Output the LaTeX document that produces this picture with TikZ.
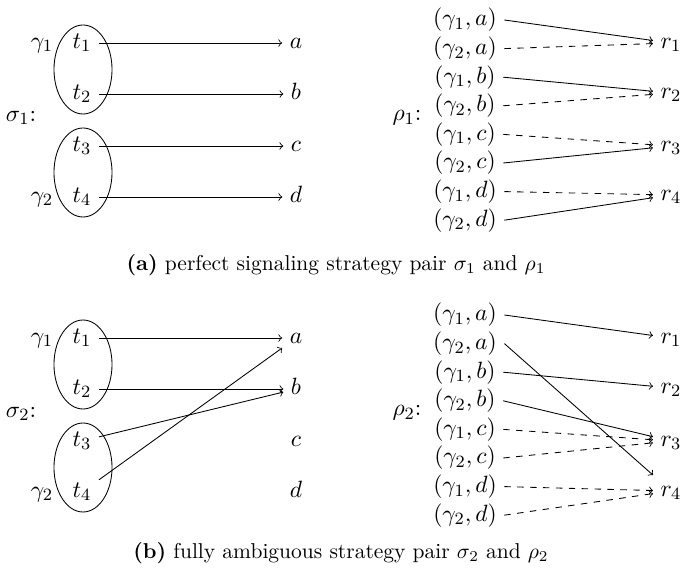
\documentclass[tikz,border=0pt]{standalone}
\usetikzlibrary{shapes.geometric}
\begin{document}
\begin{tikzpicture}[x=0.4651pt,y=-0.4651pt,
  every node/.style={font=\fontsize{10.95}{13}\selectfont},
  tx/.style={inner sep=3.33pt,text height=6.8pt,text depth=2pt},
  pr/.style={inner sep=3.33pt},
  captext/.style={font=\normalsize},
  grp/.style={draw,ellipse,inner sep=0pt,minimum width=27pt,minimum height=41.4pt},
  arr/.style={->},
  darr/.style={->,dashed}]
\useasboundingbox (0,0) rectangle (689,568);

% ---------- panel (a), left ----------
\node[grp] (e1) at (83,69.5) {};
\node[grp] (e2) at (83,172.5) {};
\node[tx] (ga1) at (42,43) {$\gamma_1$};
\node[tx] (ga2) at (42,197) {$\gamma_2$};
\node (sig1) at (21,118) {$\sigma_1$:};
\node[tx] (t1a) at (82,43) {$t_1$};
\node[tx] (t2a) at (82,94) {$t_2$};
\node[tx] (t3a) at (82,146) {$t_3$};
\node[tx] (t4a) at (82,197) {$t_4$};
\node[tx] (aa) at (296,43) {$a$};
\node[tx] (ba) at (296,94) {$b$};
\node[tx] (ca) at (296,146) {$c$};
\node[tx] (da) at (296,197) {$d$};
\draw[arr] (t1a) -- (aa);
\draw[arr] (t2a) -- (ba);
\draw[arr] (t3a) -- (ca);
\draw[arr] (t4a) -- (da);

% ---------- panel (a), right ----------
\node (rho1) at (407,118) {$\rho_1$:};
\node[pr] (p1a) at (465,20) {$(\gamma_1,a)$};
\node[pr] (p2a) at (465,48.6) {$(\gamma_2,a)$};
\node[pr] (p3a) at (465,77.2) {$(\gamma_1,b)$};
\node[pr] (p4a) at (465,105.8) {$(\gamma_2,b)$};
\node[pr] (p5a) at (465,134.4) {$(\gamma_1,c)$};
\node[pr] (p6a) at (465,163) {$(\gamma_2,c)$};
\node[pr] (p7a) at (465,191.6) {$(\gamma_1,d)$};
\node[pr] (p8a) at (465,220.2) {$(\gamma_2,d)$};
\node[tx] (r1a) at (671,43) {$r_1$};
\node[tx] (r2a) at (671,93) {$r_2$};
\node[tx] (r3a) at (671,146) {$r_3$};
\node[tx] (r4a) at (671,195) {$r_4$};
\draw[arr] (p1a.east) -- (r1a);
\draw[darr] (p2a.east) -- (r1a);
\draw[arr] (p3a.east) -- (r2a);
\draw[darr] (p4a.east) -- (r2a);
\draw[darr] (p5a.east) -- (r3a);
\draw[arr] (p6a.east) -- (r3a);
\draw[darr] (p7a.east) -- (r4a);
\draw[arr] (p8a.east) -- (r4a);

\node[captext] (capa) at (336,265) {\textbf{(a)} perfect signaling strategy pair $\sigma_1$ and $\rho_1$};

% ---------- panel (b), left ----------
\node[grp] (e3) at (83,364.5) {};
\node[grp] (e4) at (83,467.5) {};
\node[tx] (gb1) at (42,338) {$\gamma_1$};
\node[tx] (gb2) at (42,492) {$\gamma_2$};
\node (sig2) at (21,414) {$\sigma_2$:};
\node[tx] (t1b) at (82,338) {$t_1$};
\node[tx] (t2b) at (82,389) {$t_2$};
\node[tx] (t3b) at (82,441) {$t_3$};
\node[tx] (t4b) at (82,492) {$t_4$};
\node[tx] (ab) at (296,338) {$a$};
\node[tx] (bb) at (296,389) {$b$};
\node[tx] (cb) at (296,441) {$c$};
\node[tx] (db) at (296,492) {$d$};
\draw[arr] (t1b) -- (ab);
\draw[arr] (t2b) -- (bb);
\draw[arr] (t3b) -- (bb);
\draw[arr] (t4b) -- (ab);

% ---------- panel (b), right ----------
\node (rho2) at (407,413) {$\rho_2$:};
\node[pr] (p1b) at (465,315) {$(\gamma_1,a)$};
\node[pr] (p2b) at (465,343.6) {$(\gamma_2,a)$};
\node[pr] (p3b) at (465,372.2) {$(\gamma_1,b)$};
\node[pr] (p4b) at (465,400.8) {$(\gamma_2,b)$};
\node[pr] (p5b) at (465,429.4) {$(\gamma_1,c)$};
\node[pr] (p6b) at (465,458) {$(\gamma_2,c)$};
\node[pr] (p7b) at (465,486.6) {$(\gamma_1,d)$};
\node[pr] (p8b) at (465,515.2) {$(\gamma_2,d)$};
\node[tx] (r1b) at (671,338) {$r_1$};
\node[tx] (r2b) at (671,388) {$r_2$};
\node[tx] (r3b) at (671,441) {$r_3$};
\node[tx] (r4b) at (671,491) {$r_4$};
\draw[arr] (p1b.east) -- (r1b);
\draw[arr] (p2b.east) -- (r4b);
\draw[arr] (p3b.east) -- (r2b);
\draw[arr] (p4b.east) -- (r3b);
\draw[darr] (p5b.east) -- (r3b);
\draw[darr] (p6b.east) -- (r3b);
\draw[darr] (p7b.east) -- (r4b);
\draw[darr] (p8b.east) -- (r4b);

\node[captext] (capb) at (341,553) {\textbf{(b)} fully ambiguous strategy pair $\sigma_2$ and $\rho_2$};
\end{tikzpicture}
\end{document}
